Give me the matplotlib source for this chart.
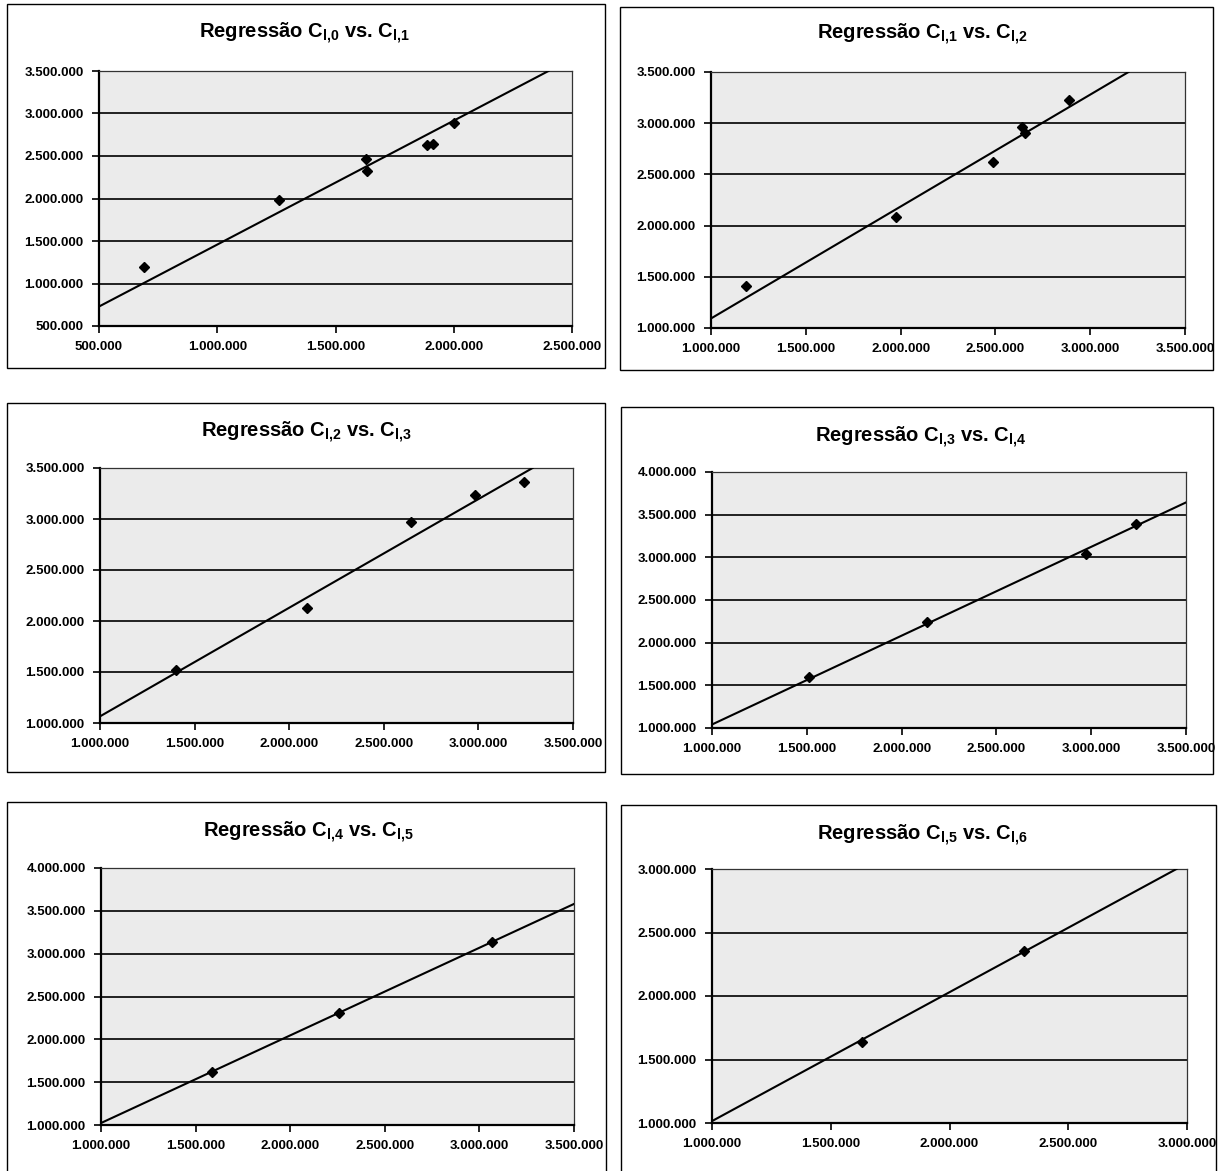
import matplotlib
matplotlib.use("Agg")
import matplotlib.pyplot as plt
from matplotlib.patches import Rectangle
from matplotlib.ticker import FuncFormatter, MultipleLocator

plt.rcParams['font.family'] = ['Liberation Sans', 'DejaVu Sans']
plt.rcParams['font.weight'] = 'bold'
plt.rcParams['mathtext.fontset'] = 'custom'
plt.rcParams['mathtext.rm'] = 'Liberation Sans:bold'
plt.rcParams['mathtext.it'] = 'Liberation Sans:bold'
plt.rcParams['mathtext.bf'] = 'Liberation Sans:bold'

# ---- data (values in currency units) ----
titles = [r"Regressão C$_{\mathrm{l{,}0}}$ vs. C$_{\mathrm{l{,}1}}$",
          r"Regressão C$_{\mathrm{l{,}1}}$ vs. C$_{\mathrm{l{,}2}}$",
          r"Regressão C$_{\mathrm{l{,}2}}$ vs. C$_{\mathrm{l{,}3}}$",
          r"Regressão C$_{\mathrm{l{,}3}}$ vs. C$_{\mathrm{l{,}4}}$",
          r"Regressão C$_{\mathrm{l{,}4}}$ vs. C$_{\mathrm{l{,}5}}$",
          r"Regressão C$_{\mathrm{l{,}5}}$ vs. C$_{\mathrm{l{,}6}}$"]

x_01 = [690e3, 1260e3, 1630e3, 1635e3, 1888e3, 1913e3, 1999e3]
y_01 = [1190e3, 1982e3, 2468e3, 2325e3, 2627e3, 2645e3, 2885e3]
x_12 = [1183e3, 1975e3, 2485e3, 2639e3, 2654e3, 2887e3]
y_12 = [1412e3, 2088e3, 2620e3, 2964e3, 2909e3, 3224e3]
x_23 = [1403e3, 2095e3, 2643e3, 2983e3, 3240e3]
y_23 = [1520e3, 2131e3, 2967e3, 3232e3, 3363e3]
x_34 = [1512e3, 2136e3, 2973e3, 3238e3]
y_34 = [1592e3, 2243e3, 3037e3, 3392e3]
x_45 = [1589e3, 2260e3, 3066e3]
y_45 = [1624e3, 2302e3, 3140e3]
x_56 = [1632e3, 2314e3]
y_56 = [1634e3, 2358e3]

# slope of each trend line (through the origin)
factors = [1.458, 1.093, 1.065, 1.041, 1.023, 1.015]

xlims = [(500e3, 2500e3), (1000e3, 3500e3), (1000e3, 3500e3),
         (1000e3, 3500e3), (1000e3, 3500e3), (1000e3, 3000e3)]
ylims = [(500e3, 3500e3), (1000e3, 3500e3), (1000e3, 3500e3),
         (1000e3, 4000e3), (1000e3, 4000e3), (1000e3, 3000e3)]

xs = [x_01, x_12, x_23, x_34, x_45, x_56]
ys = [y_01, y_12, y_23, y_34, y_45, y_56]

# ---- layout in pixels ----
W, H = 1218, 1171
axes_px = [(99, 71, 572, 326), (711, 72, 1185, 328),
           (100, 468, 573, 723), (712, 472, 1186, 728),
           (101, 868, 574, 1125), (712, 869, 1187, 1123)]
boxes_px = [(7, 4, 605, 368), (620, 7, 1213, 370),
            (7, 403, 605, 772), (621, 407, 1213, 774),
            (7, 802, 606, 1175), (621, 805, 1216, 1175)]
title_px = [(304, 33), (922, 34), (306, 432), (921, 437), (308, 832), (922, 835)]

fig = plt.figure(figsize=(W / 100, H / 100), dpi=100)
fig.patch.set_facecolor('white')

fmt = FuncFormatter(lambda v, p: f"{v:,.0f}".replace(",", "."))

for i in range(6):
    bl, bt, br, bb = boxes_px[i]
    fig.add_artist(Rectangle((bl / W, 1 - bb / H), (br - bl) / W, (bb - bt) / H,
                             transform=fig.transFigure, fill=False,
                             edgecolor='black', linewidth=1.0))
    tx, ty = title_px[i]
    fig.text(tx / W, 1 - ty / H, titles[i], ha='center', va='center',
             fontsize=14.5, fontweight='bold')

    l, t, r, b = axes_px[i]
    ax = fig.add_axes([l / W, 1 - b / H, (r - l) / W, (b - t) / H])
    ax.set_facecolor('#ebebeb')
    ax.set_xlim(*xlims[i])
    ax.set_ylim(*ylims[i])
    ax.xaxis.set_major_locator(MultipleLocator(500e3))
    ax.yaxis.set_major_locator(MultipleLocator(500e3))
    ax.xaxis.set_major_formatter(fmt)
    ax.yaxis.set_major_formatter(fmt)
    ax.grid(axis='y', color='#111111', linewidth=1.3)
    ax.set_axisbelow(True)
    for side in ['top', 'right']:
        ax.spines[side].set_linewidth(0.9)
        ax.spines[side].set_color('#333333')
    for side in ['left', 'bottom']:
        ax.spines[side].set_linewidth(1.6)
        ax.spines[side].set_color('black')
    ax.tick_params(direction='out', length=5, width=1.2, pad=6,
                   labelsize=9.5)
    for lab in ax.get_xticklabels() + ax.get_yticklabels():
        lab.set_fontweight('bold')

    ax.axline((0, 0), slope=factors[i], color='black', linewidth=1.5, zorder=3)
    ax.plot(xs[i], ys[i], linestyle='none', marker='D', markersize=5.5,
            color='black', zorder=4)

plt.savefig('out.png', dpi=100)
